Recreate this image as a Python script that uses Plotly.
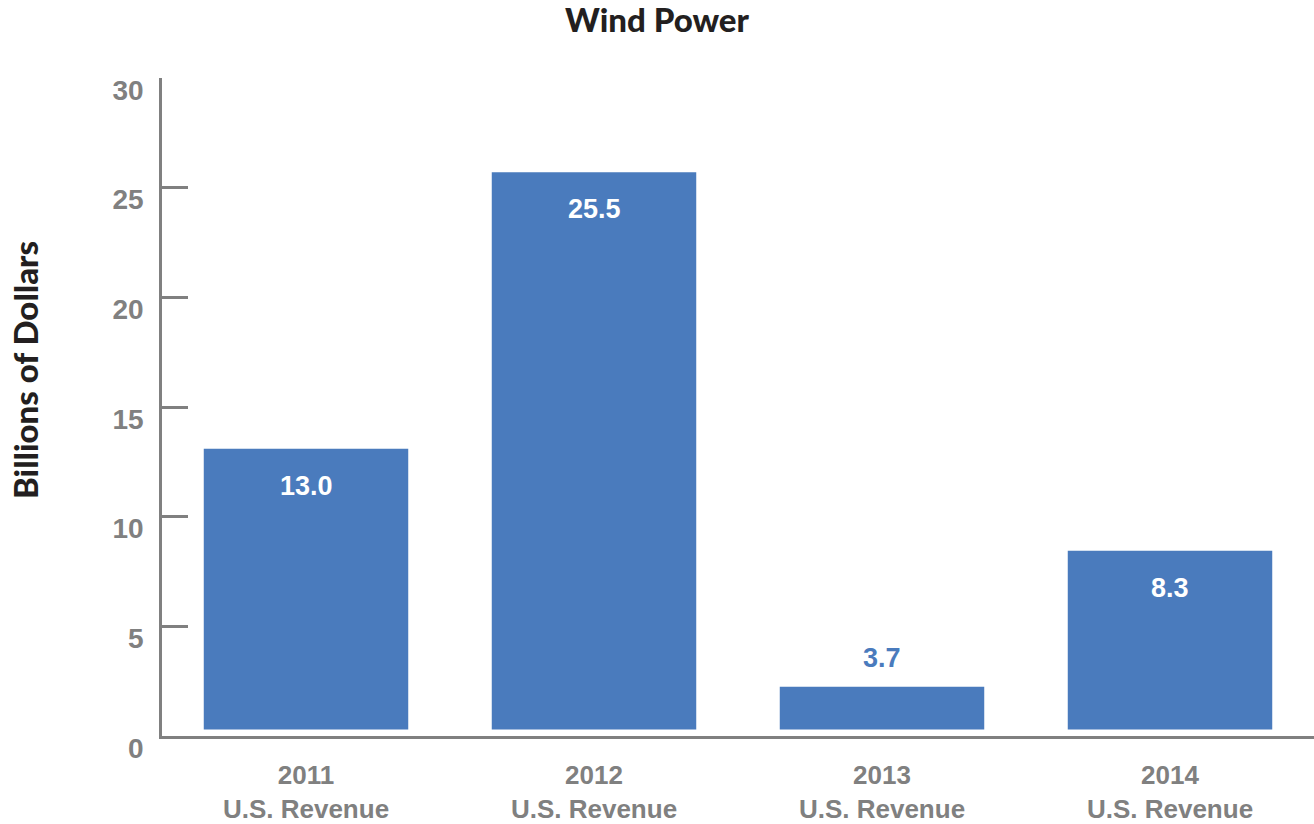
import plotly.graph_objects as go

# ---- data ----
categories = ["2011", "2012", "2013", "2014"]
tick_labels = ["2011<br>U.S. Revenue", "2012<br>U.S. Revenue",
               "2013<br>U.S. Revenue", "2014<br>U.S. Revenue"]
bar_heights = [12.8, 25.4, 1.95, 8.15]        # visible bar lengths
value_labels = ["13.0", "25.5", "3.7", "8.3"]  # printed labels
label_inside = [True, True, False, True]
y_ticks = [0, 5, 10, 15, 20, 25, 30]

# ---- styles ----
BAR_COLOR = "#4a7bbd"
GRAY = "#808080"
BAR_BASE = 0.3  # bars float slightly above the axis line

fig = go.Figure()
fig.add_trace(go.Bar(
    x=categories, y=bar_heights, base=BAR_BASE,
    marker=dict(color=BAR_COLOR, line=dict(width=0)),
    hoverinfo="skip",
))

for i, (h, lab, inside) in enumerate(zip(bar_heights, value_labels, label_inside)):
    fig.add_annotation(
        x=i, y=BAR_BASE + h, xref="x", yref="y",
        text=lab, showarrow=False, yanchor="middle",
        yshift=-37 if inside else 29,
        font=dict(family="Liberation Sans", size=27, weight="bold",
                  color="white" if inside else BAR_COLOR),
    )

fig.add_annotation(
    x=-0.119, y=0.556, xref="paper", yref="paper",
    text="Billions of Dollars", textangle=-90, showarrow=False,
    xanchor="center", yanchor="middle",
    font=dict(family="Lato", size=33, weight=900, color="#231f20"),
)

fig.update_layout(
    width=1314, height=824,
    paper_bgcolor="white", plot_bgcolor="white",
    margin=dict(l=162, r=0, t=78, b=88, autoexpand=False),
    showlegend=False, bargap=0.29,
    title=dict(text="Wind Power", x=0.5, xanchor="center",
               y=1 - 20 / 824, yanchor="middle", yref="container",
               font=dict(family="Lato", size=33, weight=900, color="#231f20")),
)

fig.update_xaxes(
    type="category", automargin=False,
    range=[-0.5, 3.5], tickvals=categories, ticktext=tick_labels,
    showline=True, linecolor=GRAY, linewidth=2.5,
    showgrid=False, zeroline=False, ticks="",
    ticklabelstandoff=14,
    tickfont=dict(family="Liberation Sans", size=26, weight="bold", color=GRAY),
)
fig.update_yaxes(
    automargin=False,
    range=[0, 30], tickvals=y_ticks,
    showline=True, linecolor=GRAY, linewidth=2.5,
    showgrid=False, zeroline=False,
    ticks="inside", ticklen=26, tickwidth=2.5, tickcolor=GRAY,
    ticklabelstandoff=10, ticklabelshift=12,
    tickfont=dict(family="Liberation Sans", size=28, weight="bold", color=GRAY),
)

fig.write_html("out.html", config={"displayModeBar": False},
               post_script="document.body.style.margin='0';")
